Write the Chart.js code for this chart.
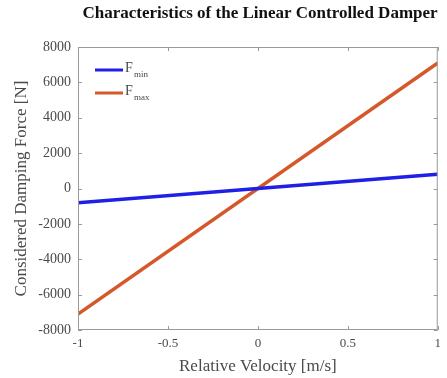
<!DOCTYPE html>
<html>
<head>
<meta charset="utf-8">
<script src="https://cdn.jsdelivr.net/npm/chart.js@4/dist/chart.umd.min.js"></script>
<style>
  html, body { margin: 0; padding: 0; background: #fff; }
  #wrap { width: 447px; height: 378px; }
</style>
</head>
<body>
<div id="wrap"><canvas id="c" width="447" height="378"></canvas></div>
<script>
// Relative velocity endpoints [m/s]
const velocity = [-1, 1];
// Damping force for minimum and maximum control setting [N]
const forceMin = [-800, 800];
const forceMax = [-7100, 7100];
// Axis ticks
const xTicks = [-1, -0.5, 0, 0.5, 1];
const yTicks = [-8000, -6000, -4000, -2000, 0, 2000, 4000, 6000, 8000];

const serif = '"Liberation Serif", "Times New Roman", serif';
const textGray = '#4a4a4a';

const toPoints = (xs, ys) => xs.map((x, i) => ({ x: x, y: ys[i] }));

// Box outline, inward tick marks, title and legend with subscripts
const decor = {
  id: 'decor',
  afterDraw(chart) {
    const ctx = chart.ctx;
    const a = chart.chartArea;
    const xs = chart.scales.x, ys = chart.scales.y;
    ctx.save();
    ctx.strokeStyle = '#9a9a9a';
    ctx.lineWidth = 1;
    ctx.strokeRect(a.left + 0.5, a.top + 0.5, a.right - a.left - 1, a.bottom - a.top - 1);
    const t = 4;
    ctx.beginPath();
    xTicks.forEach(v => {
      const px = Math.round(xs.getPixelForValue(v)) + 0.5;
      ctx.moveTo(px, a.bottom); ctx.lineTo(px, a.bottom - t);
      ctx.moveTo(px, a.top); ctx.lineTo(px, a.top + t);
    });
    yTicks.forEach(v => {
      const py = Math.round(ys.getPixelForValue(v)) + 0.5;
      ctx.moveTo(a.left, py); ctx.lineTo(a.left + t, py);
      ctx.moveTo(a.right, py); ctx.lineTo(a.right - t, py);
    });
    ctx.stroke();

    // title
    ctx.fillStyle = '#111';
    ctx.font = 'bold 17px ' + serif;
    ctx.textAlign = 'center';
    ctx.textBaseline = 'middle';
    ctx.fillText('Characteristics of the Linear Controlled Damper', 260, 14);

    // legend
    const items = [
      { color: chart.data.datasets[0].borderColor, sub: 'min', y: 70 },
      { color: chart.data.datasets[1].borderColor, sub: 'max', y: 93 }
    ];
    ctx.textAlign = 'left';
    items.forEach(it => {
      ctx.strokeStyle = it.color;
      ctx.lineWidth = 3;
      ctx.beginPath();
      ctx.moveTo(95, it.y); ctx.lineTo(123, it.y);
      ctx.stroke();
      ctx.fillStyle = textGray;
      ctx.font = '14px ' + serif;
      ctx.fillText('F', 125, it.y - 2);
      ctx.font = '9px ' + serif;
      ctx.fillText(it.sub, 134, it.y + 5);
    });
    ctx.restore();
  }
};

new Chart(document.getElementById('c'), {
  type: 'scatter',
  data: {
    datasets: [
      {
        label: 'F_min',
        data: toPoints(velocity, forceMin),
        showLine: true,
        borderColor: '#1f1fe6',
        borderWidth: 3.5,
        pointRadius: 0,
        fill: false
      },
      {
        label: 'F_max',
        data: toPoints(velocity, forceMax),
        showLine: true,
        borderColor: '#d4582a',
        borderWidth: 3.5,
        pointRadius: 0,
        fill: false
      }
    ]
  },
  options: {
    responsive: false,
    animation: false,
    devicePixelRatio: 1,
    layout: { padding: { top: 47, right: 9, left: 0, bottom: 0 } },
    plugins: { legend: { display: false }, title: { display: false }, tooltip: { enabled: false } },
    scales: {
      x: {
        type: 'linear',
        min: -1, max: 1,
        afterBuildTicks: s => { s.ticks = xTicks.map(v => ({ value: v })); },
        afterFit: s => { s.height = 48; },
        grid: { display: false, drawTicks: false },
        border: { display: false },
        ticks: {
          font: { family: serif, size: 13 }, color: textGray, padding: 6,
          callback: v => String(v)
        },
        title: {
          display: true, text: 'Relative Velocity [m/s]',
          font: { family: serif, size: 17 }, color: textGray,
          padding: { top: 0, bottom: 1 }
        }
      },
      y: {
        type: 'linear',
        min: -8000, max: 8000,
        afterBuildTicks: s => { s.ticks = yTicks.map(v => ({ value: v })); },
        afterFit: s => { s.width = 78; },
        grid: { display: false, drawTicks: false },
        border: { display: false },
        ticks: {
          font: { family: serif, size: 14 }, color: textGray, padding: 7,
          callback: v => String(v)
        },
        title: {
          display: true, text: 'Considered Damping Force [N]',
          font: { family: serif, size: 17 }, color: textGray,
          padding: { top: 11, bottom: 0 }
        }
      }
    }
  },
  plugins: [decor]
});
</script>
</body>
</html>
